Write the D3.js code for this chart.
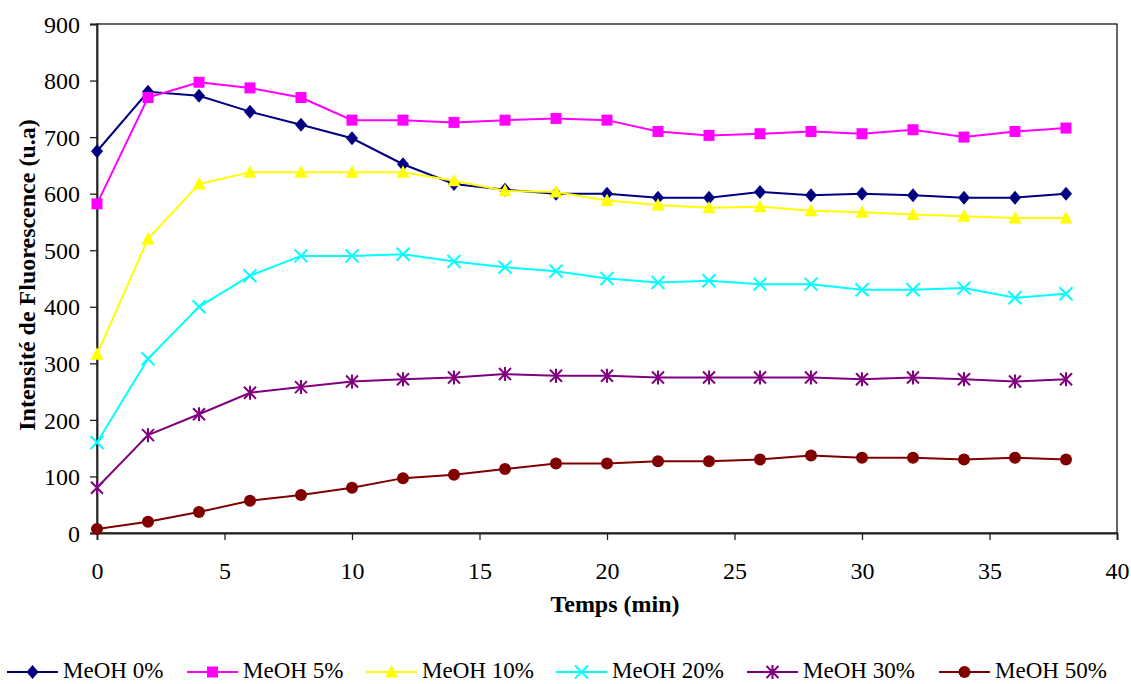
<!DOCTYPE html>
<html><head><meta charset="utf-8">
<script src="https://cdn.jsdelivr.net/npm/d3@7"></script>
<style>body{margin:0;background:#fff}svg{display:block}</style>
</head><body><svg id="c" width="1131" height="684"></svg>
<script>
const times = [0,2,4,6,8,10,12,14,16,18,20,22,24,26,28,30,32,34,36,38];
const seriesNames = ["MeOH 0%","MeOH 5%","MeOH 10%","MeOH 20%","MeOH 30%","MeOH 50%"];
const meoh0 = [675,780,773,745,722,698,652,617,607,600,600,593,593,603,597,600,597,593,593,600];
const meoh5 = [582,770,797,787,770,730,730,726,730,733,730,710,703,706,710,706,713,700,710,716];
const meoh10 = [316,520,617,638,638,638,638,623,605,603,588,580,575,577,570,567,563,560,557,557];
const meoh20 = [160,308,400,455,490,490,493,480,470,463,450,443,446,440,440,430,430,433,416,423];
const meoh30 = [80,173,210,248,258,268,272,275,281,278,278,275,275,275,275,272,275,272,268,272];
const meoh50 = [7,20,37,57,67,80,97,103,113,123,123,127,127,130,137,133,133,130,133,130];
const xTicks = [0,5,10,15,20,25,30,35,40];
const yTicks = [0,100,200,300,400,500,600,700,800,900];
const colors = ["#000080","#FF00FF","#FFFF00","#00FFFF","#800080","#800000"];
const markers = ["diamond","square","triangle","x","star","circle"];
const allValues = [meoh0,meoh5,meoh10,meoh20,meoh30,meoh50];

const FONT = "Liberation Serif, DejaVu Serif, serif";
const FS = 24;
const svg = d3.select("#c").attr("font-family",FONT);
const L=97, R=1117, T=24, B=533;
const x = d3.scaleLinear().domain([0,40]).range([L,R]);
const y = d3.scaleLinear().domain([0,900]).range([B,T]);

svg.append("rect").attr("x",L).attr("y",T).attr("width",R-L).attr("height",B-T)
  .attr("fill","none").attr("stroke","#000").attr("stroke-width",1.2);

const ya = svg.append("g").attr("transform",`translate(${L},0)`)
  .call(d3.axisLeft(y).tickValues(yTicks).tickSize(7).tickPadding(10));
const xa = svg.append("g").attr("transform",`translate(0,${B})`)
  .call(d3.axisBottom(x).tickValues(xTicks).tickSize(7).tickPadding(10));
[ya,xa].forEach(a=>{
  a.attr("font-family",FONT).attr("font-size",FS);
  a.select(".domain").attr("stroke","#222").attr("stroke-width",1.8);
  a.selectAll(".tick line").attr("stroke","#222").attr("stroke-width",1.3);
  a.selectAll("text").attr("fill","#000");
});
ya.selectAll("text").attr("dy","0.34em");
xa.selectAll("text").attr("y",46).attr("dy",0);

svg.append("text").attr("x",615).attr("y",612).attr("text-anchor","middle")
  .attr("font-weight","bold").attr("font-size",FS).text("Temps (min)");
svg.append("text").attr("transform","translate(35,275) rotate(-90)").attr("text-anchor","middle")
  .attr("font-weight","bold").attr("font-size",FS).text("Intensité de Fluorescence (u.a)");

function drawMarker(g, type, cx, cy, color){
  if(type==="diamond"){
    g.append("path").attr("d",`M${cx},${cy-7}L${cx+6},${cy}L${cx},${cy+7}L${cx-6},${cy}Z`).attr("fill",color);
  } else if(type==="square"){
    g.append("rect").attr("x",cx-5.5).attr("y",cy-5.5).attr("width",11).attr("height",11).attr("fill",color);
  } else if(type==="triangle"){
    g.append("path").attr("d",`M${cx},${cy-7}L${cx+6.5},${cy+5.5}L${cx-6.5},${cy+5.5}Z`).attr("fill",color);
  } else if(type==="x"){
    g.append("path").attr("d",`M${cx-6.5},${cy-6.5}L${cx+6.5},${cy+6.5}M${cx+6.5},${cy-6.5}L${cx-6.5},${cy+6.5}`).attr("stroke",color).attr("stroke-width",2);
  } else if(type==="star"){
    g.append("path").attr("d",`M${cx-6},${cy-6}L${cx+6},${cy+6}M${cx+6},${cy-6}L${cx-6},${cy+6}M${cx},${cy-7}L${cx},${cy+7}`).attr("stroke",color).attr("stroke-width",2);
  } else {
    g.append("circle").attr("cx",cx).attr("cy",cy).attr("r",6).attr("fill",color);
  }
}

const line = d3.line().x((d,i)=>x(times[i])).y(d=>y(d));
allValues.forEach((vals,si)=>{
  const g = svg.append("g");
  g.append("path").datum(vals).attr("d",line).attr("fill","none")
    .attr("stroke",colors[si]).attr("stroke-width",2);
  vals.forEach((v,i)=>drawMarker(g,markers[si],x(times[i]),y(v),colors[si]));
});

const legText = [63,243,422,612,803,995];
seriesNames.forEach((n,i)=>{
  const g = svg.append("g");
  const ly = 672;
  const lx = legText[i]-56;
  g.append("line").attr("x1",lx).attr("x2",lx+51).attr("y1",ly).attr("y2",ly)
    .attr("stroke",colors[i]).attr("stroke-width",2);
  drawMarker(g,markers[i],lx+25.5,ly,colors[i]);
  g.append("text").attr("x",legText[i]).attr("y",678)
    .attr("font-size",23).text(n);
});
</script></body></html>
